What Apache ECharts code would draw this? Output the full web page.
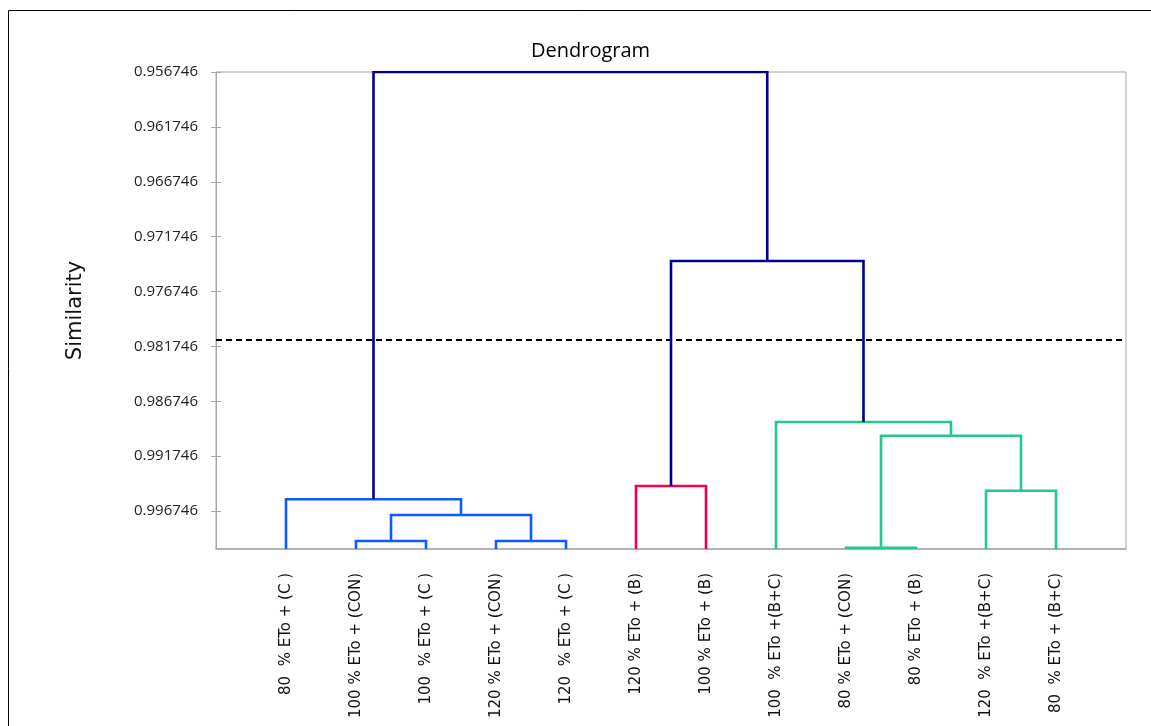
<!DOCTYPE html>
<html><head><meta charset="utf-8">
<script src="https://cdn.jsdelivr.net/npm/echarts@6/dist/echarts.min.js"></script>
<style>html,body{margin:0;padding:0;background:#fff}#c{width:1151px;height:726px}</style>
</head><body><div id="c"></div>
<script>
// ---- data ----
const leafLabels = [
  '80  % ETo + (C )',
  '100 % ETo + (CON)',
  '100  % ETo + (C )',
  '120 % ETo + (CON)',
  '120  % ETo + (C )',
  '120 % ETo + (B)',
  '100 % ETo + (B)',
  '100  % ETo +(B+C)',
  '80 % ETo + (CON)',
  '80 % ETo + (B)',
  '120  % ETo +(B+C)',
  '80  % ETo + (B+C)'
];
const yTickLabels = ['0.956746','0.961746','0.966746','0.971746','0.976746','0.981746','0.986746','0.991746','0.996746'];
// linkage: node ids 0..11 are leaves, 12.. are merges in order
const mergeLeft  = [1, 3, 12, 0, 5, 8, 10, 17, 7, 16, 15];
const mergeRight = [2, 4, 13, 14, 6, 9, 11, 18, 19, 20, 21];
const mergeSimilarity = [0.99948, 0.99948, 0.99711, 0.99568, 0.99447, 1.00009, 0.99490, 0.98989, 0.98864, 0.97397, 0.956746];
const mergeCluster = ['blue','blue','blue','blue','red','green','green','green','green','root','root'];
const leafSimilarity = 1.000208;
const cutSimilarity = 0.98117;
const yMin = 0.956746, yMax = 1.000208;

// ---- styles ----
const clusterColors = { blue: '#0d5bff', red: '#f2004f', green: '#22c98a', root: '#00008f' };

// ---- build ----
const nodeX = [], nodeY = [];
leafLabels.forEach((_, i) => { nodeX.push(i + 1); nodeY.push(leafSimilarity); });
const segData = [];
mergeLeft.forEach((l, k) => {
  const r = mergeRight[k];
  const h = mergeSimilarity[k];
  segData.push({
    coords: [[nodeX[l], nodeY[l]], [nodeX[l], h], [nodeX[r], h], [nodeX[r], nodeY[r]]],
    lineStyle: { color: clusterColors[mergeCluster[k]] }
  });
  nodeX.push((nodeX[l] + nodeX[r]) / 2);
  nodeY.push(h);
});
const xMax = leafLabels.length + 1;
const tickValues = yTickLabels.map(Number);

const chart = echarts.init(document.getElementById('c'), null, { renderer: 'canvas' });
chart.setOption({
  animation: false,
  backgroundColor: '#fff',
  title: {
    text: 'Dendrogram', left: 526, top: 36,
    textStyle: { fontFamily: 'Open Sans', fontSize: 20, fontWeight: 'normal', color: '#000' }
  },
  graphic: [{
    type: 'rect', shape: { x: 8.5, y: 10.5, width: 1300, height: 900 },
    style: { fill: 'none', stroke: '#000', lineWidth: 1 }, silent: true, z: -1
  }],
  grid: { left: 216, right: 25, top: 72, bottom: 177, show: true, borderColor: '#a6a6a6', borderWidth: 1 },
  xAxis: {
    type: 'value', min: 0, max: xMax, interval: 1,
    splitLine: { show: false },
    axisLine: { lineStyle: { color: '#a6a6a6', width: 1.5 } },
    axisTick: { show: false },
    axisLabel: {
      rotate: 90, margin: 24, fontFamily: 'DejaVu Sans', fontSize: 15, color: '#111',
      formatter: v => (v >= 1 && v <= leafLabels.length) ? leafLabels[v - 1] : ''
    }
  },
  yAxis: [{
    type: 'value', inverse: true, min: yMin, max: yMax,
    name: 'Similarity', nameLocation: 'middle', nameGap: 130,
    nameTextStyle: { fontFamily: 'DejaVu Sans', fontSize: 21, color: '#111' },
    splitLine: { show: false },
    axisLine: { lineStyle: { color: '#a6a6a6', width: 1 } },
    axisTick: { length: 5, customValues: tickValues, lineStyle: { color: '#a6a6a6' } },
    axisLabel: {
      margin: 18, fontFamily: 'Open Sans', fontSize: 15, color: '#222',
      customValues: tickValues,
      formatter: v => { const i = tickValues.indexOf(v); return i >= 0 ? yTickLabels[i] : ''; }
    }
  }, {
    type: 'value', inverse: true, min: yMin, max: yMax, position: 'left',
    splitLine: { show: false }, axisLine: { show: false },
    axisTick: { inside: true, length: 5, customValues: tickValues, lineStyle: { color: '#a6a6a6' } },
    axisLabel: { show: false }
  }],
  series: [{
    type: 'lines', coordinateSystem: 'cartesian2d', polyline: true, z: 5,
    lineStyle: { width: 2.6, opacity: 1 },
    data: segData
  }, {
    type: 'lines', coordinateSystem: 'cartesian2d', polyline: false, z: 4,
    lineStyle: { color: '#000', type: [6, 4], width: 2, opacity: 1 },
    data: [{ coords: [[0, cutSimilarity], [xMax, cutSimilarity]] }]
  }]
});
</script>
</body></html>
